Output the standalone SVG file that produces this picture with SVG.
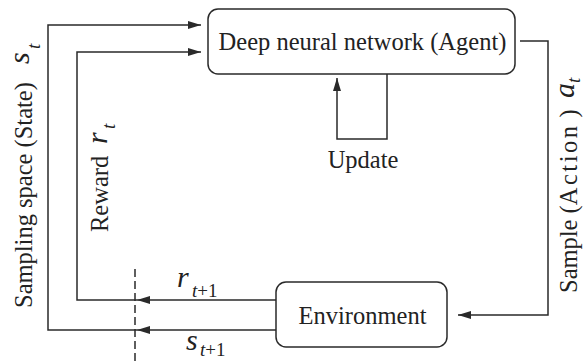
<svg xmlns="http://www.w3.org/2000/svg" width="584" height="362" viewBox="0 0 584 362">
<style>
.ln{fill:none;stroke:#2a2a2a;stroke-width:1.5}
.box{fill:#fff;stroke:#2a2a2a;stroke-width:1.5}
text{font-family:"Liberation Serif","Times New Roman",serif;fill:#222}
.lb{font-size:24.5px}
.v{font-size:30px;font-style:italic}
.sb{font-size:19px;font-style:italic}
.dash{fill:none;stroke:#2a2a2a;stroke-width:1.5;stroke-dasharray:8 4}
</style>
<defs>
<marker id="ah" markerUnits="userSpaceOnUse" viewBox="0 0 13 8" refX="13" refY="4" markerWidth="13" markerHeight="8" orient="auto">
<path d="M0,0 L13,4 L0,8 z" fill="#2a2a2a"/>
</marker>
</defs>
<rect width="584" height="362" fill="#fff"/>
<g id="agent">
<rect class="box" x="208" y="9" width="307" height="65" rx="10"/>
<text class="lb" x="362.5" y="50" text-anchor="middle">Deep neural network (Agent)</text>
</g>
<g id="environment">
<rect class="box" x="276" y="282" width="171" height="65" rx="10"/>
<text class="lb" x="362.5" y="324" text-anchor="middle">Environment</text>
</g>
<g id="connectors">
<path class="ln" d="M276,330 H137" marker-end="url(#ah)"/>
<path class="ln" d="M137,330 H48 V25 H201" marker-end="url(#ah)"/>
<path class="ln" d="M276,300 H137" marker-end="url(#ah)"/>
<path class="ln" d="M137,300 H77 V52 H201" marker-end="url(#ah)"/>
<path class="ln" d="M520,41 H548 V315 H458" marker-end="url(#ah)"/>
<path class="ln" d="M387,74 V139 H337 V78" marker-end="url(#ah)"/>
<path class="dash" d="M135,269 V362"/>
</g>
<g id="labels">
<text class="lb" x="363" y="168" text-anchor="middle">Update</text>
<g transform="translate(32,308) rotate(-90)">
<text class="lb" x="0" y="0">Sampling space (State)</text>
<text class="v" x="244" y="-3">s</text>
<text class="sb" x="259" y="8">t</text>
</g>
<g transform="translate(108,232) rotate(-90)">
<text class="lb" x="0" y="0">Reward</text>
<text class="v" x="88" y="-1">r</text>
<text class="sb" x="103" y="7">t</text>
</g>
<g transform="translate(577,293) rotate(-90)">
<text class="lb" x="0" y="0">Sample (<tspan letter-spacing="2.5">Action</tspan> )</text>
<text class="v" x="195" y="-3">a</text>
<text class="sb" x="210" y="3">t</text>
</g>
<text class="v" x="177" y="287">r</text>
<text class="sb" x="192" y="297">t<tspan font-style="normal">+1</tspan></text>
<text class="v" x="186" y="350">s</text>
<text class="sb" x="200" y="356">t<tspan font-style="normal">+1</tspan></text>
</g>
</svg>
